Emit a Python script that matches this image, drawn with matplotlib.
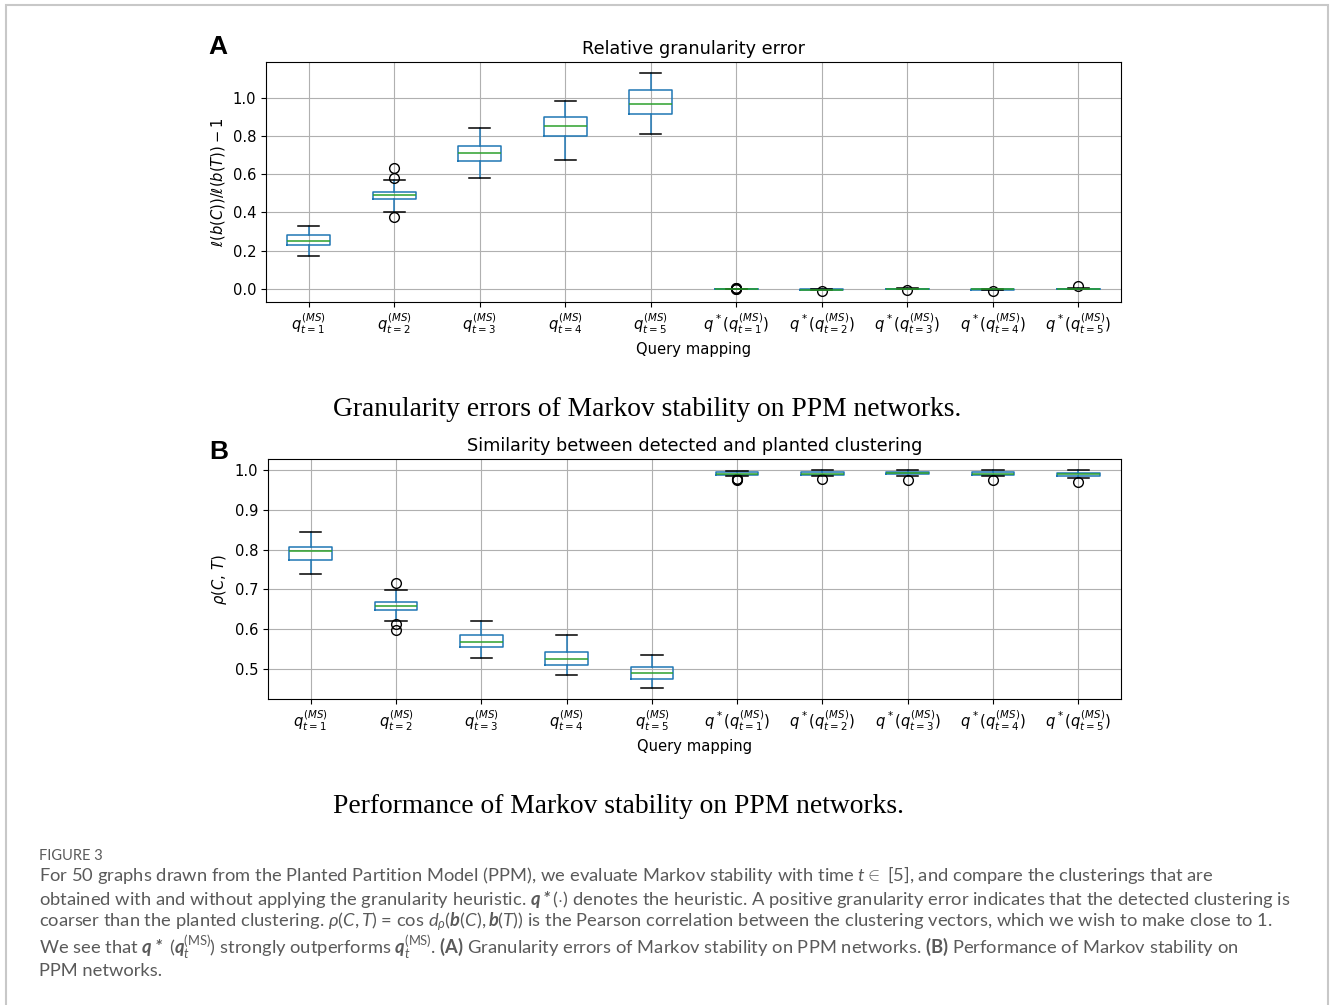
import matplotlib
matplotlib.use("Agg")
import matplotlib.pyplot as plt
from matplotlib.patches import Rectangle

# x categories (query mappings)
tick_labels = [
    r"$q^{(MS)}_{t=1}$", r"$q^{(MS)}_{t=2}$", r"$q^{(MS)}_{t=3}$",
    r"$q^{(MS)}_{t=4}$", r"$q^{(MS)}_{t=5}$",
    r"$q^*(q^{(MS)}_{t=1})$", r"$q^*(q^{(MS)}_{t=2})$", r"$q^*(q^{(MS)}_{t=3})$",
    r"$q^*(q^{(MS)}_{t=4})$", r"$q^*(q^{(MS)}_{t=5})$",
]

# panel A: relative granularity error (box statistics)
err_whislo = [0.171, 0.401, 0.581, 0.675, 0.810, -0.001, -0.007, -0.002, -0.006, -0.002]
err_q1 = [0.228, 0.469, 0.670, 0.799, 0.916, -0.001, -0.006, -0.001, -0.005, -0.001]
err_med = [0.248, 0.488, 0.710, 0.850, 0.969, 0.000, -0.004, 0.000, -0.003, 0.000]
err_q3 = [0.279, 0.508, 0.749, 0.898, 1.038, 0.001, -0.002, 0.001, -0.001, 0.001]
err_whishi = [0.330, 0.569, 0.843, 0.982, 1.129, 0.001, 0.000, 0.002, 0.000, 0.002]
err_fliers = [[], [0.631, 0.581, 0.375], [], [], [],
              [0.004, -0.003, 0.003, -0.002], [-0.012], [-0.008], [-0.011], [0.017]]

# panel B: similarity between detected and planted clustering
sim_whislo = [0.738, 0.621, 0.527, 0.486, 0.452, 0.984, 0.985, 0.984, 0.984, 0.981]
sim_q1 = [0.773, 0.648, 0.556, 0.511, 0.476, 0.988, 0.988, 0.989, 0.988, 0.985]
sim_med = [0.796, 0.658, 0.568, 0.525, 0.489, 0.991, 0.991, 0.993, 0.991, 0.989]
sim_q3 = [0.806, 0.669, 0.585, 0.543, 0.504, 0.994, 0.994, 0.996, 0.994, 0.993]
sim_whishi = [0.845, 0.698, 0.621, 0.585, 0.536, 0.998, 0.999, 0.999, 0.999, 0.999]
sim_fliers = [[], [0.717, 0.612, 0.599], [], [], [],
              [0.978, 0.976, 0.977], [0.977], [0.974], [0.976], [0.971]]

caption_lines = [
    r"For 50 graphs drawn from the Planted Partition Model (PPM), we evaluate Markov stability with time $t \in$ [5], and compare the clusterings that are",
    r"obtained with and without applying the granularity heuristic. $\mathbf{q*}(\cdot)$ denotes the heuristic. A positive granularity error indicates that the detected clustering is",
    r"coarser than the planted clustering. $\rho(C, T)$ = cos $d_\rho(\mathbf{b}(C), \mathbf{b}(T))$ is the Pearson correlation between the clustering vectors, which we wish to make close to 1.",
    r"We see that $\mathbf{q*}$ ($\mathbf{q}_t^{(\mathrm{MS})}$) strongly outperforms $\mathbf{q}_t^{(\mathrm{MS})}$. $\mathsf{(A)}$ Granularity errors of Markov stability on PPM networks. $\mathsf{(B)}$ Performance of Markov stability on",
    r"PPM networks.",
]
caption_y = [875, 899, 922, 948, 971]

W, H = 1330, 1005

plt.rcParams["mathtext.rm"] = "Lato"
plt.rcParams["mathtext.it"] = "Lato:italic"
plt.rcParams["mathtext.bf"] = "Lato:bold:italic"
plt.rcParams["mathtext.sf"] = "Lato:bold"


def make_stats(whislo, q1, med, q3, whishi, fliers):
    return [dict(label=lab, whislo=a, q1=b, med=c, q3=d, whishi=e, fliers=f)
            for lab, a, b, c, d, e, f in zip(tick_labels, whislo, q1, med, q3, whishi, fliers)]


def draw_panel(ax, stats, title, ylabel, yticks):
    ax.bxp(stats, positions=list(range(1, len(stats) + 1)), widths=0.5,
           boxprops=dict(color="#1f77b4", lw=1.1),
           whiskerprops=dict(color="#1f77b4", lw=1.1),
           medianprops=dict(color="#2ca02c", lw=1.1),
           capprops=dict(color="black", lw=1.1),
           flierprops=dict(marker="o", markerfacecolor="none",
                           markeredgecolor="black", markersize=7))
    ax.grid(True, color="#b0b0b0", lw=0.8)
    ax.set_yticks(yticks)
    ax.tick_params(labelsize=10.6)
    ax.set_title(title, fontsize=12.7)
    ax.set_xlabel("Query mapping", fontsize=10.6)
    ax.set_ylabel(ylabel, fontsize=10.6)


fig = plt.figure(figsize=(W / 100, H / 100), dpi=100)

ax_a = fig.add_axes([266 / W, 1 - 302 / H, 855 / W, 240 / H])
draw_panel(ax_a, make_stats(err_whislo, err_q1, err_med, err_q3, err_whishi, err_fliers),
           "Relative granularity error", r"$\ell(b(C))/\ell(b(T)) - 1$",
           [0.0, 0.2, 0.4, 0.6, 0.8, 1.0])

ax_b = fig.add_axes([268 / W, 1 - 699 / H, 853 / W, 239.5 / H])
draw_panel(ax_b, make_stats(sim_whislo, sim_q1, sim_med, sim_q3, sim_whishi, sim_fliers),
           "Similarity between detected and planted clustering", r"$\rho(C,\,T)$",
           [0.5, 0.6, 0.7, 0.8, 0.9, 1.0])

fig.text(208 / W, 1 - 47 / H, "A", fontsize=19, fontweight="bold",
         family="Liberation Sans", va="center", ha="left")
fig.text(209 / W, 1 - 452 / H, "B", fontsize=19, fontweight="bold",
         family="Liberation Sans", va="center", ha="left")

fig.text(333 / W, 1 - 410 / H, "Granularity errors of Markov stability on PPM networks.",
         fontsize=19.8, family="Liberation Serif", va="center", ha="left")
fig.text(333 / W, 1 - 806 / H, "Performance of Markov stability on PPM networks.",
         fontsize=19.8, family="Liberation Serif", va="center", ha="left")

cap_color = "#5a5a5a"
fig.text(39 / W, 1 - 856 / H, "FIGURE 3", fontsize=10.5, family="Lato",
         color=cap_color, va="center", ha="left")
for line, y in zip(caption_lines, caption_y):
    fig.text(39 / W, 1 - y / H, line, fontsize=13.2, family="Lato",
             color=cap_color, va="center", ha="left", math_fontfamily="custom")

# page frame
fig.patches.append(Rectangle((6 / W, -0.05), 1322 / W, 1.05 - 5 / H,
                             transform=fig.transFigure, fill=False,
                             edgecolor="#c8c8c8", lw=1.5))

fig.savefig("out.png", dpi=100)
